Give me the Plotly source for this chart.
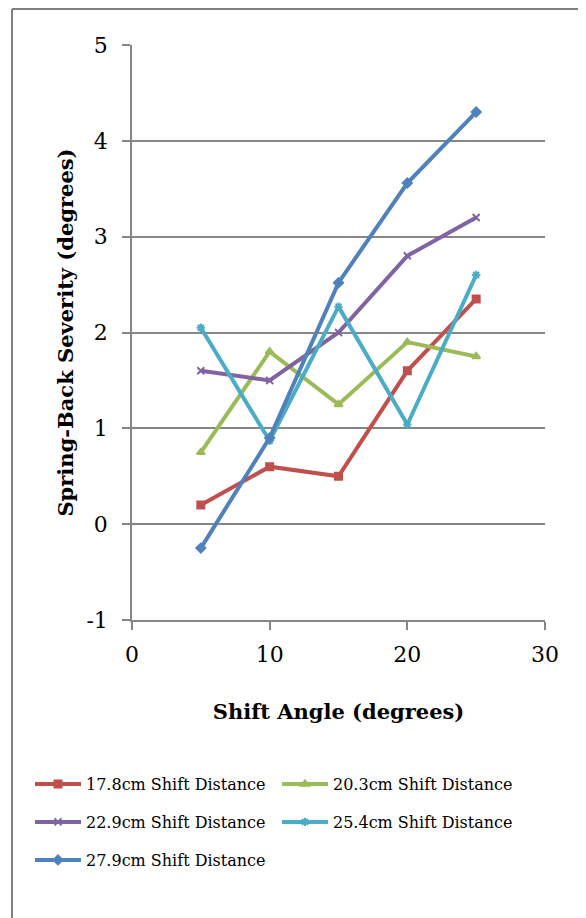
import plotly.graph_objects as go

shift_angle = [5, 10, 15, 20, 25]
s17_8 = [0.2, 0.6, 0.5, 1.6, 2.35]
s20_3 = [0.75, 1.8, 1.25, 1.9, 1.75]
s22_9 = [1.6, 1.5, 2.0, 2.8, 3.2]
s25_4 = [2.05, 0.87, 2.27, 1.04, 2.6]
s27_9 = [-0.25, 0.9, 2.52, 3.56, 4.3]

names = ["17.8cm Shift Distance", "20.3cm Shift Distance", "22.9cm Shift Distance",
         "25.4cm Shift Distance", "27.9cm Shift Distance"]
colors = ["#C0504D", "#9BBB59", "#8064A2", "#4BACC6", "#4F81BD"]
symbols = ["square", "triangle-up", "x-thin-open", "asterisk-open", "diamond"]
legends = ["legend", "legend", "legend2", "legend2", "legend3"]

y_tickvals = [-1, 0, 1, 2, 3, 4, 5]
y_ticktext = ["-1", "0", "1", "2", "3", "4", "5"]
x_tickvals = [0, 10, 20, 30]
x_ticktext = ["0", "10", "20", "30"]

FONT = "DejaVu Serif"

fig = go.Figure()
series = [s17_8, s20_3, s22_9, s25_4, s27_9]
for ys, nm, c, sym, lg in zip(series, names, colors, symbols, legends):
    fig.add_trace(go.Scatter(
        x=shift_angle, y=ys, name=nm, mode="lines+markers",
        line=dict(color=c, width=4),
        marker=dict(symbol=sym, size=7, color=c, line=dict(color=c, width=2)),
        legend=lg,
    ))

# page offset of the figure inside the browser (body margin)
OFF = 8
W, H = 586, 918
L, R, T, B = 132 - OFF, 41 + OFF, 45 - OFF, 298 + OFF
pw = W - L - R
ph = H - T - B

def px2x(p):
    return (p - OFF - L) / pw

def px2y(p):
    return (H - B - (p - OFF)) / ph

leg_common = dict(orientation="h", xanchor="left", yanchor="middle",
                  font=dict(family=FONT, size=16, color="#000"),
                  entrywidth=186, entrywidthmode="pixels",
                  bgcolor="rgba(0,0,0,0)", itemwidth=46)

fig.update_layout(
    width=W, height=H,
    margin=dict(l=L, r=R, t=T, b=B),
    paper_bgcolor="white", plot_bgcolor="white",
    font=dict(family=FONT, color="#000"),
    showlegend=True,
    legend=dict(x=px2x(30), y=px2y(784), **leg_common),
    legend2=dict(x=px2x(30), y=px2y(822), **leg_common),
    legend3=dict(x=px2x(30), y=px2y(860), **leg_common),
    xaxis=dict(range=[0, 30], tickvals=x_tickvals, ticktext=x_ticktext,
               showgrid=False, zeroline=False,
               showline=True, linecolor="#868686", linewidth=1.5,
               ticks="outside", ticklen=8, tickcolor="#868686", tickwidth=1.5,
               ticklabelstandoff=6,
               tickfont=dict(family=FONT, size=22),
               title=dict(text="<b>Shift Angle (degrees)</b>", standoff=38,
                          font=dict(family=FONT, size=21))),
    yaxis=dict(range=[-1, 5], tickvals=y_tickvals, ticktext=y_ticktext,
               showgrid=True, gridcolor="#868686", gridwidth=1.5,
               zeroline=False,
               showline=True, linecolor="#868686", linewidth=1.5,
               ticks="outside", ticklen=8, tickcolor="#868686", tickwidth=1.5,
               ticklabelstandoff=10,
               tickfont=dict(family=FONT, size=22),
               title=dict(text="<b>Spring-Back Severity (degrees)</b>", standoff=7,
                          font=dict(family=FONT, size=21))),
    shapes=[
        dict(type="line", xref="paper", yref="paper",
             x0=px2x(12), x1=px2x(12), y0=px2y(9), y1=px2y(940),
             line=dict(color="#808080", width=2)),
        dict(type="line", xref="paper", yref="paper",
             x0=px2x(12), x1=px2x(620), y0=px2y(9), y1=px2y(9),
             line=dict(color="#808080", width=2)),
    ],
)

fig.write_html("out.html")
